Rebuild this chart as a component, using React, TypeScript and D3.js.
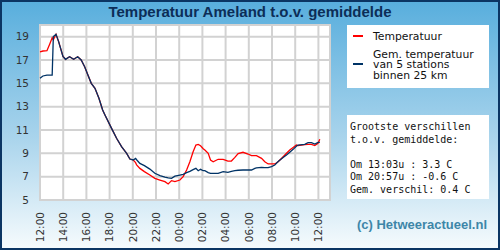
import React from "react";
import * as d3 from "d3";

// hours after 12:00 on the first day
const hours = [
  0, 0.25, 0.6, 0.85, 1.05, 1.15, 1.38, 1.6, 1.98, 2.2, 2.55, 2.9, 3.25, 3.55, 3.85,
  4.13, 4.42, 4.74, 5.08, 5.4, 5.6, 6.17, 6.6, 7.03, 7.47, 7.75, 8.04, 8.24, 8.33,
  8.61, 9.0, 9.47, 9.9, 10.34, 10.77, 11.05, 11.34, 11.63, 12.06, 12.34, 12.64,
  12.92, 13.2, 13.44, 13.64, 13.84, 14.07, 14.21, 14.5, 14.7, 14.93, 15.36, 15.79,
  16.2, 16.5, 16.8, 17.08, 17.5, 17.94, 18.23, 18.52, 18.66, 19.1, 19.38, 19.67,
  19.96, 20.24, 20.53, 20.96, 21.25, 21.53, 21.82, 22.1, 22.25, 22.82, 23.11, 23.4,
  23.69, 23.97, 24.12,
];

// Ameland
const temperatuur = [
  17.7, 17.77, 17.8, 18.4, 18.9, 18.72, 19.2, 18.6, 17.3, 17.06, 17.28, 17.06, 17.28,
  17.0, 16.43, 15.71, 15.0, 14.57, 13.72, 12.71, 12.29, 11.14, 10.29, 9.57, 9.0, 8.51,
  8.43, 8.2, 8.0, 7.71, 7.43, 7.14, 6.86, 6.71, 6.57, 6.37, 6.66, 6.57, 6.71, 7.0,
  7.57, 8.28, 9.14, 9.71, 9.77, 9.65, 9.4, 9.29, 9.0, 8.43, 8.28, 8.49, 8.49, 8.34,
  8.34, 8.65, 8.97, 9.09, 8.94, 8.8, 8.8, 8.8, 8.57, 8.28, 8.09, 8.09, 8.09, 8.28,
  8.71, 9.0, 9.29, 9.5, 9.71, 9.66, 9.75, 9.77, 9.77, 9.66, 9.86, 10.2,
];

// average of 5 stations within 25 km
const gemiddelde = [
  15.43, 15.63, 15.71, 15.71, 15.71, 19.0, 19.2, 18.6, 17.3, 17.06, 17.28, 17.06, 17.28,
  17.0, 16.43, 15.71, 15.0, 14.57, 13.72, 12.71, 12.29, 11.14, 10.29, 9.57, 9.0, 8.51,
  8.43, 8.57, 8.45, 8.14, 7.95, 7.65, 7.29, 7.09, 6.97, 6.9, 6.86, 7.05, 7.14, 7.2,
  7.34, 7.45, 7.6, 7.71, 7.51, 7.63, 7.51, 7.51, 7.35, 7.29, 7.29, 7.29, 7.43, 7.37,
  7.45, 7.51, 7.55, 7.57, 7.57, 7.57, 7.71, 7.75, 7.8, 7.78, 7.77, 7.86, 8.0, 8.3,
  8.65, 8.86, 9.1, 9.34, 9.6, 9.71, 9.77, 9.91, 9.91, 9.8, 9.94, 9.94,
];

const tickHours = [0, 2, 4, 6, 8, 10, 12, 14, 16, 18, 20, 22, 24];
const tickLabels = [
  "12:00", "14:00", "16:00", "18:00", "20:00", "22:00", "00:00",
  "02:00", "04:00", "06:00", "08:00", "10:00", "12:00",
];
const yTicks = [5, 7, 9, 11, 13, 15, 17, 19];

const legendLabels = [["Temperatuur"], ["Gem. temperatuur", "van 5 stations", "binnen 25 km"]];
const infoLines = [
  "Grootste verschillen",
  "t.o.v. gemiddelde:",
  "",
  "Om 13:03u : 3.3 C",
  "Om 20:57u : -0.6 C",
  "Gem. verschil: 0.4 C",
];

const W = 500;
const H = 250;
const RED = "#ff0000";
const NAVY = "#003366";

export default function App() {
  const x = d3.scaleLinear().domain([0, 25]).range([40, 330]);
  const y = d3.scaleLinear().domain([5, 20]).range([200, 25]);

  const line = (vals: number[]) =>
    d3
      .line<number>()
      .x((_, i) => x(hours[i]))
      .y((d) => y(d))(vals) as string;

  const sans = "DejaVu Sans, sans-serif";

  return (
    <svg
      width={W}
      height={H}
      style={{ position: "fixed", left: 0, top: 0 }}
      fontFamily={sans}
    >
      <defs>
        <linearGradient id="bg" x1="0" y1="0" x2="0" y2="1">
          <stop offset="0" stopColor="#58aedd" />
          <stop offset="0.55" stopColor="#a9d4ec" />
          <stop offset="1" stopColor="#f6fbfd" />
        </linearGradient>
      </defs>
      <rect x={1} y={1} width={W - 2} height={H - 2} fill="url(#bg)" stroke="#0b3563" strokeWidth={2} />

      <text
        x={250}
        y={16.5}
        textAnchor="middle"
        fontWeight="bold"
        fontSize={15}
        fill="#0c2d57"
        fontFamily="Liberation Sans, Arial, sans-serif"
      >
        Temperatuur Ameland t.o.v. gemiddelde
      </text>

      {/* plot area */}
      <rect x={40} y={25} width={290} height={175} fill="#fff" />
      <g stroke="#d2d2d2" strokeWidth={2}>
        {tickHours.map((h) => (
          <line key={"v" + h} x1={x(h)} x2={x(h)} y1={25} y2={200} />
        ))}
        {yTicks.map((t) => (
          <line key={"h" + t} x1={40} x2={330} y1={y(t)} y2={y(t)} />
        ))}
        <rect x={40} y={25} width={290} height={175} fill="none" />
      </g>

      <g fontSize={10.5} fill="#333">
        {yTicks.map((t) => (
          <text key={t} x={29} y={y(t)} dy="0.36em" textAnchor="end">
            {t}
          </text>
        ))}
        {tickHours.map((h, i) => (
          <text
            key={"x" + i}
            transform={`translate(${x(h)},212) rotate(-90)`}
            dy="0.36em"
            textAnchor="end"
          >
            {tickLabels[i]}
          </text>
        ))}
      </g>

      <path d={line(temperatuur)} fill="none" stroke={RED} strokeWidth={1.3} />
      <path d={line(gemiddelde)} fill="none" stroke={NAVY} strokeWidth={1.3} />

      {/* legend */}
      <rect x={347} y={25} width={142} height={63} fill="#fff" />
      <line x1={353} x2={363} y1={36} y2={36} stroke={RED} strokeWidth={2} />
      <line x1={353} x2={363} y1={64} y2={64} stroke={NAVY} strokeWidth={2} />
      <g fontSize={10.8} fill="#111">
        <text x={373} y={39.5}>{legendLabels[0][0]}</text>
        {legendLabels[1].map((s, i) => (
          <text key={s} x={373} y={58 + i * 10.4}>
            {s}
          </text>
        ))}
      </g>

      {/* summary box */}
      <rect x={347} y={115} width={142} height={84} fill="#fff" />
      <g fontSize={10} fill="#111" fontFamily="DejaVu Sans Mono, monospace">
        {infoLines.map((s, i) => (
          <text key={i} x={350} y={130 + i * 12.5} xmlSpace="preserve">
            {s}
          </text>
        ))}
      </g>

      <text x={487} y={229} textAnchor="end" fontSize={13} fontWeight="bold" fill="#3d86a8" fontFamily="Liberation Sans, Arial, sans-serif">
        (c) Hetweeractueel.nl
      </text>
    </svg>
  );
}
